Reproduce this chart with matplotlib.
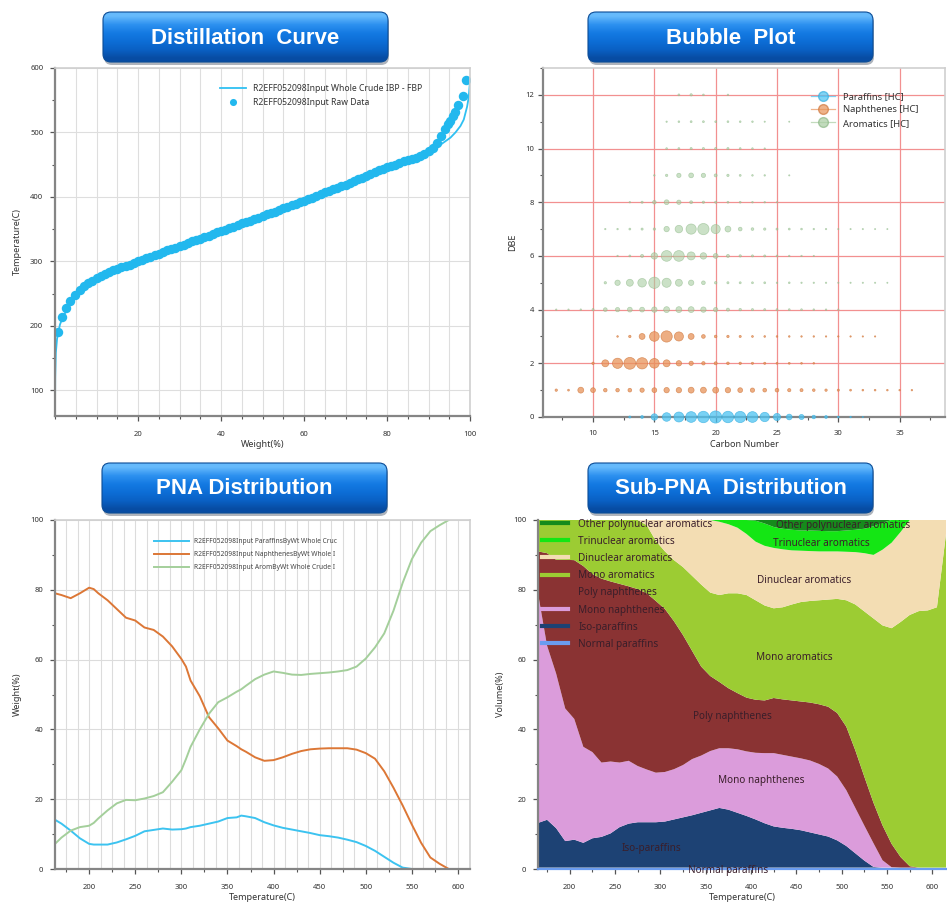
import numpy as np
import matplotlib
matplotlib.use('Agg')
import matplotlib.pyplot as plt
from matplotlib.patches import FancyBboxPatch
from matplotlib.lines import Line2D
from matplotlib.ticker import MultipleLocator

plt.rcParams['font.family'] = ['Noto Sans', 'DejaVu Sans']

# ---------------- Distillation curve data ----------------
curve_wt = [0, 0.05, 0.2, 0.5, 0.8, 1.2, 2, 3, 4, 5, 7, 10, 15, 20, 30, 40, 50, 60, 70, 80,
            85, 88, 90, 92, 94, 95.3, 96.5, 97.7, 98.5, 99.3, 99.7, 100]
curve_temp = [60, 120, 158, 180, 190, 202, 215, 226, 236, 244, 257, 270, 286, 298, 323, 347, 370, 394, 419, 445,
              456, 463, 469, 477, 486, 492, 500, 510, 520, 540, 555, 580]

raw_wt = [0.7, 1.6, 2.6, 3.6, 4.9, 6, 7, 8, 9, 10, 11, 12, 13, 14, 15, 16, 17, 18, 19, 20,
          21, 22, 23, 24, 25, 26, 27, 28, 29, 30, 31, 32, 33, 34, 35, 36, 37, 38, 39, 40,
          41, 42, 43, 44, 45, 46, 47, 48, 49, 50, 51, 52, 53, 54, 55, 56, 57, 58, 59, 60,
          61, 62, 63, 64, 65, 66, 67, 68, 69, 70, 71, 72, 73, 74, 75, 76, 77, 78, 79, 80,
          81, 82, 83, 84, 85, 86, 87, 88, 89, 90, 91, 92, 93, 94, 94.7, 95.3, 95.9, 96.5,
          97.1, 98.2, 99.1]
raw_temp = [191, 213, 227, 239, 248, 256, 262, 266, 270, 274, 277, 280, 283, 286, 288, 291, 293, 295, 298, 300,
            302, 305, 307, 310, 312, 314, 317, 319, 321, 324, 326, 328, 331, 333, 335, 338, 340, 342, 345, 347,
            349, 352, 354, 356, 359, 361, 363, 366, 368, 370, 373, 375, 377, 380, 382, 384, 387, 389, 392, 394,
            397, 399, 402, 404, 407, 409, 412, 414, 417, 419, 422, 425, 428, 430, 433, 436, 438, 441, 443, 446,
            448, 450, 452, 455, 457, 459, 461, 464, 467, 471, 476, 484, 494, 505, 513, 518, 525, 532,
            542, 556, 582]

# ---------------- Bubble plot data (abundance, wt%) ----------------
# each row: DBE value, first carbon number, abundances for consecutive carbon numbers
par_dbe0 = [0.04, 0.07, 0.36, 0.64, 0.86, 1.0, 1.14, 1.28, 1.14, 1.1, 1.0, 0.76, 0.45, 0.28, 0.22,
            0.11, 0.07, 0.03, 0.02, 0.01]
nap_dbe1 = [0.05, 0.03, 0.3, 0.2, 0.11, 0.11, 0.12, 0.16, 0.2, 0.25, 0.25, 0.3, 0.3, 0.3, 0.25,
            0.2, 0.16, 0.12, 0.12, 0.09, 0.08, 0.06, 0.05, 0.04, 0.03, 0.026, 0.026, 0.023, 0.02, 0.02]
nap_dbe2 = [0.05, 0.42, 0.9, 1.21, 1.1, 0.81, 0.42, 0.25, 0.16, 0.1, 0.08, 0.06, 0.05, 0.04, 0.04,
            0.03, 0.03, 0.026, 0.023]
nap_dbe3 = [0.023, 0.05, 0.3, 0.81, 1.1, 0.72, 0.3, 0.12, 0.06, 0.05, 0.04, 0.03, 0.026, 0.023,
            0.023, 0.02, 0.02, 0.017, 0.017, 0.017, 0.015, 0.015]
aro_dbe4 = [0.017, 0.017, 0.02, 0.04, 0.12, 0.16, 0.2, 0.2, 0.25, 0.3, 0.3, 0.3, 0.25, 0.16, 0.08,
            0.053, 0.04, 0.036, 0.032, 0.029, 0.026, 0.023, 0.02, 0.017]
aro_dbe5 = [0.05, 0.25, 0.42, 0.64, 1.1, 0.72, 0.42, 0.25, 0.12, 0.053, 0.04, 0.036, 0.032, 0.032,
            0.02, 0.026, 0.017, 0.017, 0.017, 0.014, 0.014, 0.014, 0.014, 0.012]
aro_dbe6 = [0.017, 0.032, 0.078, 0.36, 1.0, 1.0, 0.56, 0.36, 0.2, 0.078, 0.048, 0.04, 0.036, 0.026,
            0.02, 0.017, 0.014]
aro_dbe7 = [0.017, 0.02, 0.032, 0.04, 0.048, 0.25, 0.49, 0.9, 1.1, 0.72, 0.3, 0.12, 0.063, 0.048,
            0.036, 0.032, 0.026, 0.02, 0.017, 0.014, 0.014, 0.014, 0.012, 0.012]
aro_dbe8 = [0.02, 0.04, 0.11, 0.2, 0.16, 0.073, 0.048, 0.04, 0.032, 0.029, 0.023, 0.02, 0.014]
aro_dbe9 = [0.02, 0.048, 0.16, 0.2, 0.16, 0.078, 0.048, 0.032, 0.023, 0.02, 0, 0.014]
aro_dbe10 = [0.026, 0.032, 0.04, 0.04, 0.04, 0.04, 0.029, 0.023, 0.017]
aro_dbe11 = [0.017, 0.026, 0.032, 0.032, 0.029, 0.029, 0.026, 0.023, 0.014, 0, 0.012]
aro_dbe12 = [0.032, 0.048, 0.026, 0, 0.02]

paraffin_rows = [(0, 13, par_dbe0)]
naphthene_rows = [(1, 7, nap_dbe1), (2, 10, nap_dbe2), (3, 12, nap_dbe3)]
aromatic_rows = [(4, 7, aro_dbe4), (5, 11, aro_dbe5), (6, 12, aro_dbe6), (7, 11, aro_dbe7),
                 (8, 13, aro_dbe8), (9, 15, aro_dbe9), (10, 16, aro_dbe10), (11, 16, aro_dbe11),
                 (12, 17, aro_dbe12)]

# ---------------- PNA distribution data ----------------
pna_temp = [163, 170, 180, 190, 200, 205, 210, 220, 230, 240, 250, 260, 270, 280, 290, 300, 305, 310,
            320, 330, 340, 350, 360, 365, 370, 380, 390, 400, 410, 420, 430, 440, 450, 460, 470, 480,
            490, 500, 510, 520, 530, 540, 550, 560, 570, 580, 590]
pna_paraffins = [14.1, 13, 11, 8.8, 7.2, 7, 7, 7, 7.6, 8.5, 9.5, 10.8, 11.2, 11.6, 11.3, 11.4, 11.6, 12,
                 12.4, 13, 13.6, 14.6, 14.8, 15.3, 15.1, 14.6, 13.4, 12.5, 11.8, 11.3, 10.8, 10.3, 9.7, 9.4,
                 9, 8.4, 7.7, 6.6, 5.2, 3.5, 1.8, 0.4, 0, 0, 0, 0, 0]
pna_naphthenes = [79, 78.5, 77.6, 79, 80.6, 80.2, 79, 77, 74.5, 72, 71.2, 69.2, 68.5, 66.6, 63.8, 60.2, 58,
                  54, 49.5, 43.5, 40.3, 36.8, 35.2, 34.3, 33.6, 32, 31, 31.2, 32, 33, 33.8, 34.3, 34.5,
                  34.6, 34.6, 34.6, 34.2, 33.2, 31.6, 28, 23.3, 18.2, 12.7, 7.5, 3.3, 1.5, 0]
pna_aromatics = [7.2, 9, 11, 12, 12.4, 13.2, 14.5, 16.8, 18.8, 19.8, 19.7, 20.2, 20.9, 22, 25, 28.3, 31.5,
                 35, 40, 44.5, 47.8, 49.2, 50.8, 51.5, 52.5, 54.4, 55.7, 56.6, 56.2, 55.7, 55.6, 55.9, 56.1,
                 56.3, 56.6, 57, 58, 60.3, 63.5, 67.5, 74, 82, 88.8, 93.5, 96.8, 98.5, 100]

# ---------------- Sub-PNA distribution data (volume %) ----------------
sub_temp = [165, 175, 185, 195, 205, 215, 225, 235, 245, 255, 265, 275, 285, 295, 305, 315, 325, 335,
            345, 355, 365, 375, 385, 395, 405, 415, 425, 435, 445, 455, 465, 475, 485, 495, 505, 515,
            525, 535, 545, 555, 565, 575, 585, 595, 605, 615]
normal_paraffins = [0.4, 0.4, 0.4, 0.4, 0.4, 0.4, 0.4, 0.4, 0.4, 0.4, 0.4, 0.4, 0.4, 0.4, 0.4, 0.4,
                    0.4, 0.4, 0.4, 0.4, 0.4, 0.4, 0.4, 0.4, 0.4, 0.4, 0.4, 0.4, 0.4, 0.4, 0.4, 0.4,
                    0.4, 0.4, 0.4, 0.4, 0.4, 0.4, 0.4, 0.4, 0.4, 0.4, 0.4, 0.4, 0.4, 0.4]
iso_paraffins = [12.8, 13.7, 11.3, 7.6, 8.0, 7.1, 8.4, 8.8, 9.8, 11.6, 12.6, 13.0, 13.0, 13.0, 13.2,
                 13.8, 14.4, 15.0, 15.7, 16.4, 17.1, 16.6, 15.7, 14.8, 13.8, 12.7, 11.8, 11.4, 11.1,
                 10.7, 10.1, 9.5, 8.9, 7.8, 6.2, 4.1, 2.0, 0.2, 0, 0, 0, 0, 0, 0, 0, 0]
mono_naphthenes = [65.8, 49.9, 44.3, 38.0, 34.6, 27.5, 24.7, 21.3, 20.6, 18.5, 18.0, 16.1, 15.1, 14.2,
                   14.2, 14.4, 15.0, 16.1, 16.4, 17.0, 17.1, 17.6, 18.2, 18.5, 19.1, 20.1, 21.0, 20.9,
                   20.7, 20.6, 20.6, 20.2, 19.5, 18.3, 16.0, 13.0, 10.0, 6.8, 2.1, 0.1, 0, 0, 0, 0, 0, 0]
poly_naphthenes = [12.0, 26.5, 32.6, 42.6, 45.5, 51.8, 51.0, 52.7, 51.6, 51.2, 50.0, 50.7, 50.5, 49.2,
                   46.7, 42.4, 37.2, 31.0, 25.5, 21.5, 19.0, 17.2, 16.1, 15.4, 15.2, 15.1, 15.8, 15.9,
                   16.1, 16.3, 16.6, 17.1, 17.7, 18.2, 18.2, 16.5, 14.0, 11.6, 10.0, 6.7, 3.0, 0.4,
                   0, 0, 0, 0]
mono_aromatics = [9.0, 9.5, 11.4, 11.4, 11.5, 13.2, 15.5, 16.8, 17.6, 18.3, 19.0, 19.8, 19.5, 17.2,
                  16.5, 17.5, 19.5, 21.5, 23.5, 23.9, 24.9, 27.2, 28.6, 29.4, 28.5, 27.2, 25.7, 26.4,
                  27.5, 28.5, 29.1, 29.8, 30.7, 32.7, 36.2, 41.8, 47.4, 52.8, 57.3, 61.8, 67.4, 72.0,
                  73.5, 73.7, 74.6, 95.6]
dinuclear_aromatics = [0, 0, 0, 0, 0, 0, 0, 0, 0, 0, 0, 0, 1.5, 6.0, 9.0, 11.5, 13.5, 16.0, 18.5, 20.8,
                       21.0, 19.8, 18.8, 17.5, 16.8, 17.1, 17.3, 16.6, 15.5, 14.7, 14.3, 14.0, 13.8,
                       13.6, 13.9, 15.0, 16.7, 18.2, 21.7, 24.5, 25.8, 27.2, 26.1, 25.9, 25.0, 4.0]
trinuclear_aromatics = [0, 0, 0, 0, 0, 0, 0, 0, 0, 0, 0, 0, 0, 0, 0, 0, 0, 0, 0, 0,
                        0.5, 1.2, 2.2, 4.0, 6.0, 6.4, 6.0, 5.9, 5.9, 5.8, 5.9, 5.9, 5.8, 5.8, 6.1,
                        6.4, 7.0, 8.2, 7.7, 6.5, 3.4, 0, 0, 0, 0, 0]
other_polynuclear = [0, 0, 0, 0, 0, 0, 0, 0, 0, 0, 0, 0, 0, 0, 0, 0, 0, 0, 0, 0, 0, 0, 0, 0,
                     0.2, 1.0, 2.0, 2.5, 2.8, 3.0, 3.0, 3.1, 3.2, 3.2, 3.0, 2.8, 2.5, 1.8, 0.8, 0,
                     0, 0, 0, 0, 0, 0]
sub_names = ['Normal paraffins', 'Iso-paraffins', 'Mono naphthenes', 'Poly naphthenes',
             'Mono aromatics', 'Dinuclear aromatics', 'Trinuclear aromatics', 'Other polynuclear aromatics']
sub_colors = ['#6a9cf0', '#1d4274', '#db9cdb', '#8a3333', '#9ccc33', '#f3ddb3', '#14e614', '#168a1c']

W, H = 947, 910
fig = plt.figure(figsize=(W / 100, H / 100), dpi=100)
fig.patch.set_facecolor('white')


def px_axes(l, t, r, b):
    return fig.add_axes([l / W, 1 - b / H, (r - l) / W, (b - t) / H])


def style(ax, ylab, xlab, xpad=7, ypad=5):
    for s in ['left', 'bottom']:
        ax.spines[s].set_color('#858585')
        ax.spines[s].set_linewidth(1.6)
    for s in ['top', 'right']:
        ax.spines[s].set_color('#cfcfcf')
        ax.spines[s].set_linewidth(1.2)
    ax.tick_params(which='both', direction='out', colors='#555555', labelsize=5.5,
                   labelcolor='#333333', top=False, right=False)
    ax.tick_params(which='major', length=3.5, width=0.9)
    ax.tick_params(which='minor', length=2.5, width=0.8)
    ax.tick_params(axis='x', pad=xpad)
    ax.tick_params(axis='y', pad=ypad)
    ax.set_xlabel(xlab, fontsize=6.5, color='#333333', labelpad=2)
    ax.set_ylabel(ylab, fontsize=6.5, color='#333333', labelpad=6)


# ---------------- Distillation curve ----------------
ax1 = px_axes(55, 68, 470, 416)
ax1.set_xlim(0, 100)
ax1.set_ylim(60, 600)
ax1.xaxis.set_major_locator(MultipleLocator(20))
ax1.xaxis.set_minor_locator(MultipleLocator(5))
ax1.yaxis.set_major_locator(MultipleLocator(100))
ax1.yaxis.set_minor_locator(MultipleLocator(50))
ax1.grid(True, which='both', axis='x', color='#dedede', lw=0.8)
ax1.grid(True, which='major', axis='y', color='#dedede', lw=0.8)
ax1.set_axisbelow(True)
ax1.plot(curve_wt, curve_temp, color='#2fc0f2', lw=1.3, label='R2EFF052098Input Whole Crude IBP - FBP')
ax1.plot(raw_wt, raw_temp, 'o', color='#22b8ee', ms=6.8, mec='none',
         label='R2EFF052098Input Raw Data')
ax1.set_xticks([20, 40, 60, 80, 100])
style(ax1, 'Temperature(C)', 'Weight(%)')
ax1.legend(loc='upper left', bbox_to_anchor=(0.38, 0.975), frameon=False, fontsize=6.2,
           handlelength=3.0, labelspacing=0.55, labelcolor='#333333', markerscale=0.75)

# ---------------- Bubble plot ----------------
ax2 = px_axes(543, 68, 945, 417)
ax2.set_xlim(5.92, 38.7)
ax2.set_ylim(0, 13)
ax2.xaxis.set_major_locator(MultipleLocator(5))
ax2.xaxis.set_minor_locator(MultipleLocator(2.5))
ax2.yaxis.set_major_locator(MultipleLocator(2))
ax2.yaxis.set_minor_locator(MultipleLocator(1))
ax2.grid(True, which='major', color='#f29090', lw=0.9)
ax2.set_axisbelow(True)

groups = [('Paraffins [HC]', paraffin_rows, '#4cc3f2', '#3ab0e0', 0.75),
          ('Naphthenes [HC]', naphthene_rows, '#e8935a', '#d07a40', 0.75),
          ('Aromatics [HC]', aromatic_rows, '#a9cda2', '#8db887', 0.6)]
handles = []
for name, rows, fc, ec, al in groups:
    xs, ys, ab = [], [], []
    for dbe, c0, vals in rows:
        for i, v in enumerate(vals):
            if v > 0:
                xs.append(c0 + i)
                ys.append(dbe)
                ab.append(v)
    ax2.scatter(xs, ys, s=np.array(ab) * 60, color=fc, edgecolors=ec, linewidths=0.5,
                alpha=al, clip_on=False, zorder=3)
    handles.append(Line2D([0], [0], color=fc, lw=0.9, alpha=0.7, marker='o', ms=7,
                          mfc=fc, mec=ec, label=name))
style(ax2, 'DBE', 'Carbon Number', xpad=6, ypad=3)
ax2.legend(handles=handles, loc='upper left', bbox_to_anchor=(0.645, 0.955), frameon=False,
           fontsize=6.8, handlelength=2.6, labelspacing=0.45, labelcolor='#333333')

# ---------------- PNA distribution ----------------
ax3 = px_axes(55, 520, 470, 869)
ax3.set_xlim(163, 613)
ax3.set_ylim(0, 100)
ax3.xaxis.set_major_locator(MultipleLocator(50))
ax3.xaxis.set_minor_locator(MultipleLocator(25))
ax3.yaxis.set_major_locator(MultipleLocator(20))
ax3.yaxis.set_minor_locator(MultipleLocator(10))
for gx in np.arange(175, 613, 12.5):
    ax3.axvline(gx, color='#dcdcdc', lw=0.8, zorder=0)
ax3.grid(True, which='major', axis='y', color='#dcdcdc', lw=0.8)
ax3.set_axisbelow(True)
ax3.plot(pna_temp, pna_paraffins, color='#3cc3f0', lw=1.4,
         label='R2EFF052098Input ParaffinsByWt Whole Cruc')
ax3.plot(pna_temp, pna_naphthenes, color='#dc7736', lw=1.4,
         label='R2EFF052098Input NaphthenesByWt Whole I')
ax3.plot(pna_temp, pna_aromatics, color='#a4cf9b', lw=1.4,
         label='R2EFF052098Input AromByWt Whole Crude I')
style(ax3, 'Weight(%)', 'Temperature(C)')
ax3.legend(loc='upper left', bbox_to_anchor=(0.225, 0.965), frameon=False, fontsize=4.8,
           handlelength=5.2, labelspacing=0.9, labelcolor='#444444')

# ---------------- Sub-PNA distribution ----------------
ax4 = px_axes(538, 520, 946, 869)
ax4.set_xlim(165, 615)
ax4.set_ylim(0, 100)
ax4.xaxis.set_major_locator(MultipleLocator(50))
ax4.xaxis.set_minor_locator(MultipleLocator(25))
ax4.yaxis.set_major_locator(MultipleLocator(20))
ax4.yaxis.set_minor_locator(MultipleLocator(10))
layers = [normal_paraffins, iso_paraffins, mono_naphthenes, poly_naphthenes, mono_aromatics,
          dinuclear_aromatics, trinuclear_aromatics, other_polynuclear]
ax4.stackplot(sub_temp, *layers, colors=sub_colors, labels=sub_names, linewidth=0)
style(ax4, 'Volume(%)', 'Temperature(C)')
ax4.spines['bottom'].set_color('#6a9cf0')
ax4.spines['right'].set_visible(False)
ax4.spines['top'].set_visible(False)
leg_handles = [Line2D([0], [0], color=c, lw=3) for c in sub_colors][::-1]
ax4.legend(leg_handles, sub_names[::-1], loc='upper left', bbox_to_anchor=(-0.012, 1.03),
           frameon=False, fontsize=7.2, handlelength=2.6, labelspacing=0.62,
           labelcolor='#3a1e2a', handletextpad=1.0)
label_pos = [('Other polynuclear aromatics', 502, 98.3), ('Trinuclear aromatics', 478, 93.4),
             ('Dinuclear aromatics', 458, 82.6), ('Mono aromatics', 448, 60.5),
             ('Poly naphthenes', 379, 43.6), ('Mono naphthenes', 411, 25.3),
             ('Iso-paraffins', 290, 6.0), ('Normal paraffins', 375, -0.3)]
for txt, tx, ty in label_pos:
    ax4.text(tx, ty, txt, ha='center', va='center', fontsize=7.2, color='#3a1e2a',
             clip_on=False, zorder=5)

# ---------------- Title banners ----------------
ov = fig.add_axes([0, 0, 1, 1], zorder=10)
ov.set_xlim(0, W)
ov.set_ylim(H, 0)
ov.axis('off')
ov.patch.set_alpha(0)
grad = np.array([[0.40, 0.73, 0.99], [0.18, 0.57, 0.94], [0.08, 0.48, 0.89],
                 [0.05, 0.43, 0.84], [0.04, 0.38, 0.77], [0.03, 0.30, 0.64]])
grad_img = np.repeat(grad[:, None, :], 2, axis=1)
banners = [('Distillation  Curve', 103, 12), ('Bubble  Plot', 588, 12),
           ('PNA Distribution', 102, 463), ('Sub-PNA  Distribution', 588, 463)]
bw, bh = 285, 50
for title, bx, by in banners:
    sh = FancyBboxPatch((bx + 1, by + 3), bw, bh, boxstyle='round,pad=0,rounding_size=8',
                        facecolor='#1a2a40', edgecolor='none', alpha=0.35)
    ov.add_patch(sh)
    box = FancyBboxPatch((bx, by), bw, bh, boxstyle='round,pad=0,rounding_size=8',
                         facecolor='none', edgecolor='#0b4c96', lw=0.8)
    ov.add_patch(box)
    im = ov.imshow(grad_img, extent=(bx, bx + bw, by + bh, by), origin='upper',
                   aspect='auto', interpolation='bilinear', zorder=1)
    im.set_clip_path(box)
    box.set_zorder(2)
    ov.text(bx + bw / 2, by + bh / 2 + 1, title, ha='center', va='center', color='white',
            fontsize=16, fontweight='bold', family=['Liberation Sans', 'DejaVu Sans'], zorder=3)
ov.set_xlim(0, W)
ov.set_ylim(H, 0)

fig.savefig('out.png', dpi=100)
